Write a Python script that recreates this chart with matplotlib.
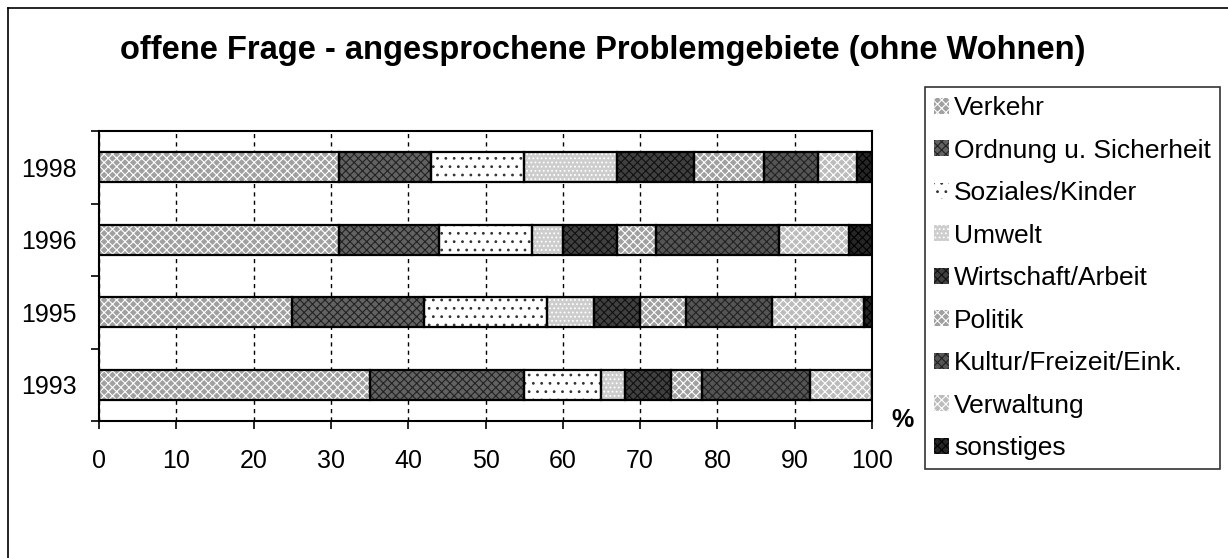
import matplotlib
matplotlib.use("Agg")
import matplotlib.pyplot as plt
from matplotlib.lines import Line2D
import numpy as np

plt.rcParams['font.family'] = ['Liberation Sans', 'DejaVu Sans']
plt.rcParams['hatch.linewidth'] = 0.8

years = ["1993", "1995", "1996", "1998"]
categories = ["Verkehr", "Ordnung u. Sicherheit", "Soziales/Kinder", "Umwelt",
              "Wirtschaft/Arbeit", "Politik", "Kultur/Freizeit/Eink.",
              "Verwaltung", "sonstiges"]
# values per category, in order of years (1993, 1995, 1996, 1998)
verkehr     = [35, 25, 31, 31]
ordnung     = [20, 17, 13, 12]
soziales    = [10, 16, 12, 12]
umwelt      = [3, 6, 4, 12]
wirtschaft  = [6, 6, 7, 10]
politik     = [4, 6, 5, 9]
kultur      = [14, 11, 16, 7]
verwaltung  = [8, 12, 9, 5]
sonstiges   = [0, 1, 3, 2]
series = [verkehr, ordnung, soziales, umwelt, wirtschaft, politik, kultur,
          verwaltung, sonstiges]

faces = ["#a0a0a0", "#626262", "#ffffff", "#cdcdcd", "#404040", "#a0a0a0",
         "#555555", "#bcbcbc", "#262626"]
hatches = ["xxxx", "xxxx", "..", "....", "xxxx", "xxxx", "xxxx", "xxxx", "xxxx"]
hcolors = ["#ffffff", "#222222", "#333333", "#ffffff", "#111111", "#ffffff",
           "#222222", "#ffffff", "#000000"]

fig = plt.figure(figsize=(12.28, 5.58), dpi=100)
ax = fig.add_axes([99/1228, 1-421/558, 773/1228, 290/558])

y = np.arange(len(years))
left = np.zeros(len(years))
handles = []
for vals, fc, h, hc, lab in zip(series, faces, hatches, hcolors, categories):
    v = np.array(vals, dtype=float)
    ax.barh(y, v, left=left, height=0.41, color=fc, hatch=h, edgecolor=hc,
            linewidth=0, zorder=2)
    ax.barh(y, v, left=left, height=0.41, fill=False, edgecolor="black",
            linewidth=1.6, zorder=3)
    left += v
    handles.append(plt.Rectangle((0, 0), 1, 1, facecolor=fc, hatch=h,
                                 edgecolor=hc, linewidth=0))

ax.set_xlim(0, 100)
ax.set_ylim(-0.5, 3.5)
ax.set_xticks(np.arange(0, 101, 10))
ax.set_yticks(y)
ax.set_yticklabels(years)
ax.set_yticks([-0.5, 0.5, 1.5, 2.5, 3.5], minor=True)
ax.tick_params(axis="y", which="major", length=0, pad=16, labelsize=18)
ax.tick_params(axis="y", which="minor", length=6, width=1.2, direction="out")
ax.tick_params(axis="x", which="major", length=6, width=1.2, direction="out",
               pad=14, labelsize=18)
ax.xaxis.grid(True, color="black", linestyle=(0, (3, 3)), linewidth=1.0, zorder=0)
ax.set_axisbelow(True)
for s in ax.spines.values():
    s.set_linewidth(1.5)

fig.text(603/1228, 1-50/558, "offene Frage - angesprochene Problemgebiete (ohne Wohnen)",
         ha="center", va="center", fontsize=23.5, fontweight="bold")
fig.text(903/1228, 1-420/558, "%", ha="center", va="center", fontsize=18,
         fontweight="bold")

leg = fig.legend(handles, categories, loc="upper left",
                 bbox_to_anchor=(925/1228, 1-87/558), frameon=True,
                 fancybox=False, shadow=False, fontsize=19,
                 handlelength=0.55, handleheight=0.55, handletextpad=0.2,
                 labelspacing=0.7, borderpad=0.35, borderaxespad=0)
leg.get_frame().set_edgecolor("black")
leg.get_frame().set_linewidth(1.2)

fig.add_artist(Line2D([8/1228, 1], [1-8/558, 1-8/558], color="black", lw=1.2))
fig.add_artist(Line2D([8/1228, 8/1228], [0, 1-8/558], color="black", lw=1.2))

fig.savefig("out.png", dpi=100)
